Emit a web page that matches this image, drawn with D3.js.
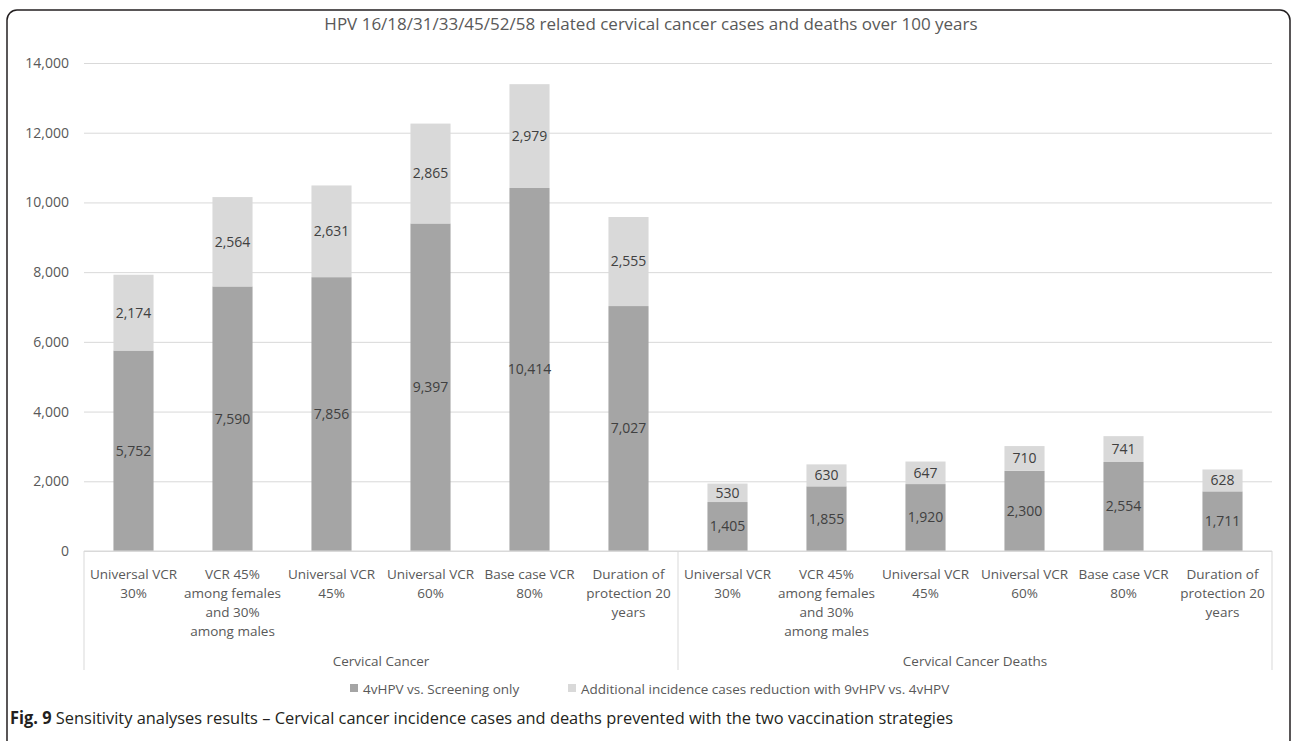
<!DOCTYPE html>
<html>
<head>
<meta charset="utf-8">
<script src="https://cdn.jsdelivr.net/npm/d3@7"></script>
<style>
  body { margin: 0; background: #fff; }
  svg text { font-family: "Open Sans", sans-serif; }
</style>
</head>
<body>
<svg id="chart" width="1292" height="741"></svg>
<script>
// data
const groups = ["Cervical Cancer", "Cervical Cancer Deaths"];
const scenarios = [
  ["Universal VCR", "30%"],
  ["VCR 45%", "among females", "and 30%", "among males"],
  ["Universal VCR", "45%"],
  ["Universal VCR", "60%"],
  ["Base case VCR", "80%"],
  ["Duration of", "protection 20", "years"]
];
const vs4v = [5752, 7590, 7856, 9397, 10414, 7027, 1405, 1855, 1920, 2300, 2554, 1711];
const extra9v = [2174, 2564, 2631, 2865, 2979, 2555, 530, 630, 647, 710, 741, 628];
const seriesNames = ["4vHPV vs. Screening only", "Additional incidence cases reduction with 9vHPV vs. 4vHPV"];
const yTicks = [0, 2000, 4000, 6000, 8000, 10000, 12000, 14000];

const colors = ["#a5a5a5", "#d9d9d9"];
const textCol = "#595959";

const svg = d3.select("#chart");
const margin = {left: 84, right: 20, top: 63};
const plotRight = 1272, plotBottom = 551;

// frame
svg.append("rect")
  .attr("x", 7).attr("y", 10)
  .attr("width", 1283).attr("height", 740)
  .attr("rx", 10)
  .attr("fill", "none").attr("stroke", "#231f20").attr("stroke-width", 1.5);

svg.append("text")
  .attr("x", 651).attr("y", 30)
  .attr("text-anchor", "middle")
  .attr("font-size", 17).attr("fill", textCol)
  .text("HPV 16/18/31/33/45/52/58 related cervical cancer cases and deaths over 100 years");

const rows = [];
groups.forEach((g, gi) => scenarios.forEach((s, si) => {
  const i = gi * scenarios.length + si;
  rows.push({key: i, group: g, lines: s, a: vs4v[i], b: extra9v[i]});
}));

const x = d3.scaleBand()
  .domain(rows.map(d => d.key))
  .range([margin.left, plotRight])
  .paddingInner(0.595).paddingOuter(0.2975);

const y = d3.scaleLinear().domain([0, 14000]).range([plotBottom, margin.top]);

// gridlines + y labels
const yAxis = svg.append("g")
  .attr("transform", `translate(${margin.left},0)`)
  .call(d3.axisLeft(y).tickValues(yTicks).tickSize(-(plotRight - margin.left)).tickFormat(d3.format(",")).tickPadding(15));
yAxis.select(".domain").remove();
yAxis.selectAll(".tick line").attr("stroke", "#d9d9d9").attr("stroke-width", 1);
yAxis.selectAll(".tick text").attr("fill", textCol).attr("font-size", 14).attr("font-family", "Open Sans, sans-serif");

// stacked bars
const stack = d3.stack().keys(["a", "b"])(rows);
const layers = svg.append("g").selectAll("g").data(stack).join("g")
  .attr("fill", (d, i) => colors[i]);

layers.selectAll("rect").data(d => d).join("rect")
  .attr("x", d => x(d.data.key))
  .attr("width", x.bandwidth())
  .attr("y", d => y(d[1]))
  .attr("height", d => y(d[0]) - y(d[1]));

layers.selectAll("text").data(d => d).join("text")
  .attr("x", d => x(d.data.key) + x.bandwidth() / 2)
  .attr("y", d => (y(d[0]) + y(d[1])) / 2)
  .attr("dy", "0.35em")
  .attr("text-anchor", "middle")
  .attr("font-size", 14).attr("fill", "#404040")
  .text(d => d3.format(",")(d[1] - d[0]));

// baseline
svg.append("line")
  .attr("x1", margin.left).attr("x2", plotRight)
  .attr("y1", plotBottom).attr("y2", plotBottom)
  .attr("stroke", "#d9d9d9");

// category labels
const step = x.step();
const catLabels = svg.append("g").selectAll("text").data(rows).join("text")
  .attr("text-anchor", "middle")
  .attr("font-size", 13.5).attr("fill", textCol);
catLabels.selectAll("tspan").data(d => d.lines.map(l => ({l, cx: x(d.key) + x.bandwidth() / 2}))).join("tspan")
  .attr("x", d => d.cx)
  .attr("y", (d, i) => 579 + i * 19)
  .text(d => d.l);

// group separators and group labels
const groupStart = gi => x(rows[gi * scenarios.length].key) - x.paddingOuter() * step;
[0, 1, 2].forEach(k => {
  const xx = k < 2 ? groupStart(k) : plotRight;
  svg.append("line")
    .attr("x1", xx).attr("x2", xx)
    .attr("y1", plotBottom).attr("y2", 670)
    .attr("stroke", "#d9d9d9");
});
groups.forEach((g, gi) => {
  const x0 = groupStart(gi);
  const x1 = gi < groups.length - 1 ? groupStart(gi + 1) : plotRight;
  svg.append("text")
    .attr("x", (x0 + x1) / 2).attr("y", 666)
    .attr("text-anchor", "middle")
    .attr("font-size", 13.5).attr("fill", textCol)
    .text(g);
});

// legend
const legendX = [350, 568];
const legend = svg.append("g").selectAll("g").data(seriesNames).join("g")
  .attr("transform", (d, i) => `translate(${legendX[i]},689)`);
legend.append("rect")
  .attr("x", 0).attr("y", -5).attr("width", 8).attr("height", 8)
  .attr("fill", (d, i) => colors[i]);
legend.append("text")
  .attr("x", 13).attr("y", 0).attr("dy", "0.35em")
  .attr("font-size", 13.5).attr("fill", textCol)
  .text(d => d);

// caption
const cap = svg.append("text")
  .attr("x", 10).attr("y", 724)
  .attr("font-size", 17).attr("fill", "#231f20")
  .attr("textLength", 943).attr("lengthAdjust", "spacingAndGlyphs");
cap.append("tspan").attr("font-weight", "bold").text("Fig. 9");
cap.append("tspan").text(" Sensitivity analyses results \u2013 Cervical cancer incidence cases and deaths prevented with the two vaccination strategies");
</script>
</body>
</html>
